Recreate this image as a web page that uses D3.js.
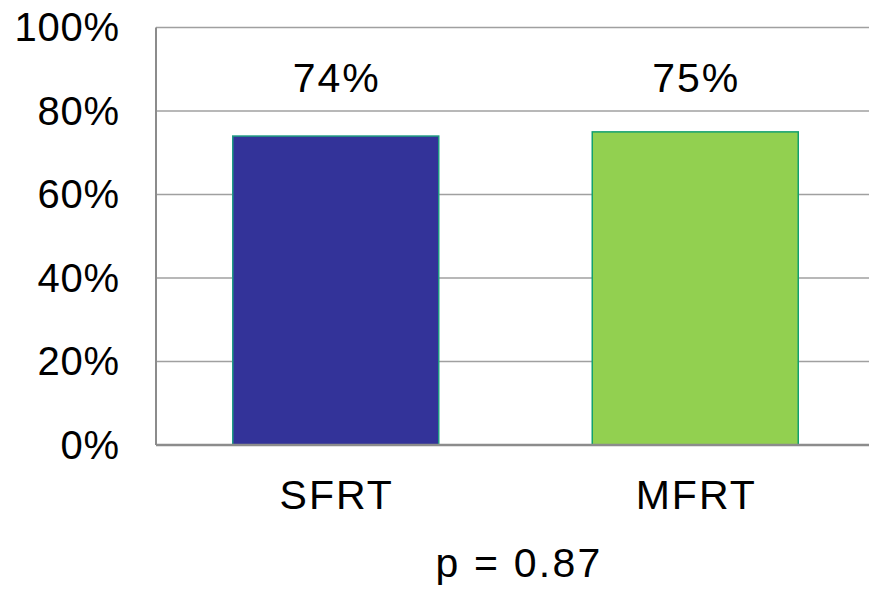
<!DOCTYPE html>
<html>
<head>
<meta charset="utf-8">
<script src="https://cdn.jsdelivr.net/npm/d3@7/dist/d3.min.js"></script>
<style>
  html, body { margin: 0; padding: 0; background: #fff; }
  svg { display: block; }
  text { font-family: "Liberation Sans", Arial, sans-serif; fill: #000; }
</style>
</head>
<body>
<svg id="chart" width="869" height="592"></svg>
<script>
// Response rates by fractionation scheme
const categories = ["SFRT", "MFRT"];
const values = [74, 75];
const fills = ["#333399", "#92d050"];
const strokes = ["#1f9a83", "#12a06e"];
const yTicks = [0, 20, 40, 60, 80, 100];
const pLabel = "p = 0.87";

const svg = d3.select("#chart");
const plotLeft = 156, plotRight = 875, plotTop = 27.5, plotBottom = 445;

const x = d3.scaleBand()
  .domain(categories)
  .range([plotLeft, plotRight])
  .paddingInner(0.427)
  .paddingOuter(0.2135);

const y = d3.scaleLinear().domain([0, 100]).range([plotBottom, plotTop]);

// horizontal gridlines
svg.append("g")
  .selectAll("line")
  .data(yTicks.filter(d => d > 0))
  .join("line")
  .attr("x1", plotLeft).attr("x2", 869)
  .attr("y1", d => y(d)).attr("y2", d => y(d))
  .attr("stroke", "#a0a0a0")
  .attr("stroke-width", 1.5);

// y axis labels
const yAxis = d3.axisLeft(y)
  .tickValues(yTicks)
  .tickFormat(d => d + "%")
  .tickSize(0)
  .tickPadding(36);
const gy = svg.append("g")
  .attr("transform", `translate(${plotLeft},0)`)
  .call(yAxis);
gy.select(".domain").remove();
gy.selectAll("text")
  .attr("font-size", 40)
  .attr("font-family", "Liberation Sans, Arial, sans-serif")
  .attr("letter-spacing", 0.8)
  .attr("dy", 13)
  .attr("fill", "#000");

// bars
svg.append("g")
  .selectAll("rect")
  .data(categories)
  .join("rect")
  .attr("x", d => x(d))
  .attr("width", x.bandwidth())
  .attr("y", (d, i) => y(values[i]))
  .attr("height", (d, i) => y(0) - y(values[i]))
  .attr("fill", (d, i) => fills[i])
  .attr("stroke", (d, i) => strokes[i])
  .attr("stroke-width", 1.5);

// left and bottom axis lines
svg.append("line")
  .attr("x1", plotLeft).attr("x2", plotLeft)
  .attr("y1", plotTop).attr("y2", plotBottom)
  .attr("stroke", "#8c8c8c").attr("stroke-width", 2);
svg.append("line")
  .attr("x1", plotLeft).attr("x2", 869)
  .attr("y1", plotBottom).attr("y2", plotBottom)
  .attr("stroke", "#8c8c8c").attr("stroke-width", 2.5);

// value labels
svg.append("g")
  .selectAll("text")
  .data(categories)
  .join("text")
  .attr("x", d => x(d) + x.bandwidth() / 2 + 1)
  .attr("y", 92)
  .attr("text-anchor", "middle")
  .attr("font-size", 41)
  .attr("letter-spacing", 2)
  .text((d, i) => values[i] + "%");

// category labels
const xAxis = d3.axisBottom(x).tickSize(0).tickPadding(0);
const gx = svg.append("g")
  .attr("transform", `translate(1,${plotBottom})`)
  .call(xAxis);
gx.select(".domain").remove();
gx.selectAll("text")
  .attr("font-size", 41)
  .attr("font-family", "Liberation Sans, Arial, sans-serif")
  .attr("letter-spacing", 2)
  .attr("fill", "#000")
  .attr("dy", null)
  .attr("y", 64);

// significance note
svg.append("text")
  .attr("x", 519)
  .attr("y", 577)
  .attr("text-anchor", "middle")
  .attr("font-size", 41)
  .attr("letter-spacing", 2.2)
  .text(pLabel);
</script>
</body>
</html>
